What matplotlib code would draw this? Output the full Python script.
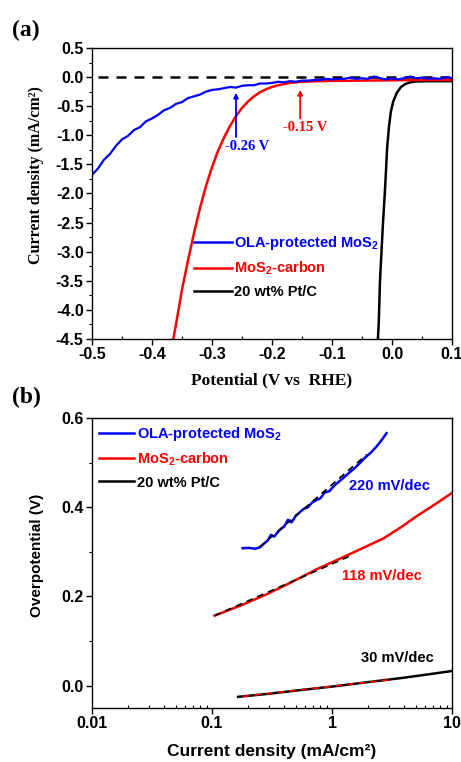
import numpy as np
import matplotlib
matplotlib.use('Agg')
import matplotlib.pyplot as plt
from matplotlib.ticker import MultipleLocator, FixedLocator, FuncFormatter, LogLocator, NullFormatter

plt.rcParams['font.family'] = 'Liberation Sans'
plt.rcParams['font.weight'] = 'bold'
plt.rcParams['axes.unicode_minus'] = False
plt.rcParams['mathtext.fontset'] = 'custom'
plt.rcParams['mathtext.rm'] = 'Liberation Sans:bold'
plt.rcParams['mathtext.bf'] = 'Liberation Sans:bold'

# ---- panel (a): polarisation curves ----
ola_v = [-0.50, -0.49, -0.48, -0.47, -0.46, -0.45, -0.44, -0.43, -0.42, -0.41,
         -0.40, -0.39, -0.38, -0.37, -0.36, -0.35, -0.34, -0.33, -0.32, -0.31,
         -0.30, -0.29, -0.28, -0.27, -0.26, -0.25, -0.24, -0.23, -0.22, -0.21,
         -0.20, -0.19, -0.18, -0.17, -0.16, -0.15, -0.14, -0.13, -0.12, -0.11,
         -0.10, -0.09, -0.08, -0.07, -0.06, -0.05, -0.04, -0.03, -0.02, -0.01,
         0.00, 0.01, 0.02, 0.03, 0.04, 0.05, 0.06, 0.07, 0.08, 0.09, 0.10]
ola_j = [-1.68, -1.57, -1.42, -1.32, -1.18, -1.07, -1.01, -0.91, -0.86, -0.76,
         -0.71, -0.65, -0.57, -0.53, -0.46, -0.43, -0.36, -0.33, -0.30, -0.25,
         -0.22, -0.21, -0.19, -0.17, -0.18, -0.15, -0.14, -0.14, -0.11, -0.11,
         -0.10, -0.08, -0.09, -0.07, -0.08, -0.06, -0.06, -0.05, -0.05, -0.03,
         -0.04, -0.03, -0.03, -0.01, -0.03, -0.02, -0.03, 0.01, -0.02, -0.04,
         -0.02, -0.04, -0.02, 0.01, -0.02, -0.01, -0.03, -0.02, -0.03, 0.00, -0.02]

mc_v = [-0.37, -0.36, -0.35, -0.34, -0.33, -0.32, -0.31, -0.30, -0.29, -0.28,
        -0.27, -0.26, -0.25, -0.24, -0.23, -0.22, -0.21, -0.20, -0.19, -0.18,
        -0.17, -0.16, -0.15, -0.14, -0.12, -0.10, -0.05, 0.00, 0.05, 0.10]
mc_j = [-4.80, -4.25, -3.65, -3.15, -2.68, -2.25, -1.87, -1.55, -1.27, -1.04,
        -0.84, -0.67, -0.53, -0.42, -0.33, -0.26, -0.21, -0.17, -0.14, -0.12,
        -0.10, -0.09, -0.08, -0.075, -0.07, -0.065, -0.06, -0.055, -0.05, -0.05]

pt_v = [-0.025, -0.022, -0.020, -0.017, -0.015, -0.012, -0.010, -0.008, -0.005,
        -0.002, 0.002, 0.008, 0.015, 0.022, 0.030, 0.040, 0.060, 0.100]
pt_j = [-4.80, -4.20, -3.50, -2.90, -2.50, -2.00, -1.60, -1.20, -0.85,
        -0.60, -0.42, -0.27, -0.17, -0.12, -0.09, -0.075, -0.07, -0.07]

# onset potentials: (potential, arrow base, arrow tip, label x, label y)
onset_ola = (-0.26, -1.03, -0.27, -0.241, -1.20)
onset_mc = (-0.153, -0.71, -0.22, -0.144, -0.87)

# ---- panel (b): Tafel plots ----
tf_ola_x = [0.18, 0.20, 0.23, 0.25, 0.27, 0.29, 0.31, 0.33, 0.35, 0.37, 0.40,
            0.43, 0.46, 0.50, 0.54, 0.58, 0.63, 0.68, 0.74, 0.80, 0.87, 0.95,
            1.04, 1.15, 1.27, 1.40, 1.55, 1.72, 1.90, 2.10, 2.35, 2.60, 2.85]
tf_ola_y = [0.308, 0.309, 0.307, 0.310, 0.318, 0.325, 0.338, 0.334, 0.343, 0.350, 0.357,
            0.372, 0.366, 0.381, 0.389, 0.396, 0.400, 0.410, 0.416, 0.420, 0.433, 0.436,
            0.448, 0.458, 0.468, 0.478, 0.488, 0.500, 0.512, 0.522, 0.536, 0.551, 0.566]
tf_mc_x = [0.105, 0.178, 0.286, 0.468, 0.745, 1.41, 2.68, 3.80, 5.08, 7.08, 10.0]
tf_mc_y = [0.157, 0.181, 0.205, 0.233, 0.261, 0.295, 0.330, 0.356, 0.380, 0.405, 0.432]
tf_pt_x = [0.165, 0.30, 0.50, 1.0, 2.0, 4.0, 7.0, 10.0]
tf_pt_y = [-0.025, -0.018, -0.011, -0.002, 0.008, 0.018, 0.027, 0.033]

fit_ola_x, fit_ola_y = [0.25, 1.95], [0.311, 0.518]
fit_mc_x, fit_mc_y = [0.105, 1.45], [0.157, 0.292]
fit_pt_x, fit_pt_y = [0.18, 3.2], [-0.024, 0.014]

slopes = ['220 mV/dec', '118 mV/dec', '30 mV/dec']
slope_pos = [(2.99, 0.448), (2.61, 0.245), (3.51, 0.061)]

labels = ['OLA-protected MoS$_2$', 'MoS$_2$-carbon', '20 wt% Pt/C']
colors = ['#0000ff', '#ff0000', '#000000']

serif = 'Liberation Serif'

fig = plt.figure(figsize=(4.61, 7.62), dpi=100)
ax1 = fig.add_axes([92/461, 1-339/762, 360/461, 291/762])
ax2 = fig.add_axes([92/461, 1-708/762, 360/461, 290/762])

# panel (a)
ax1.plot([-0.49, 0.1], [0, 0], '--', color='black', lw=1.8, dashes=(4, 3.2))
ax1.plot(pt_v, pt_j, color=colors[2], lw=1.8, label=labels[2])
ax1.plot(mc_v, mc_j, color=colors[1], lw=1.8, label=labels[1])
ax1.plot(ola_v, ola_j, color=colors[0], lw=1.6, label=labels[0])

for (v, y0, y1, tx, ty), c, t in [(onset_ola, colors[0], '-0.26 V'),
                                   (onset_mc, colors[1], '-0.15 V')]:
    ax1.annotate('', xy=(v, y1), xytext=(v, y0),
                 arrowprops=dict(arrowstyle='-|>', color=c, lw=1.3,
                                 mutation_scale=7, shrinkA=0, shrinkB=0))
    ax1.text(tx, ty, t, color=c, fontsize=10.5, family=serif,
             weight='bold', ha='center', va='center')

ax1.set_xlim(-0.5, 0.1)
ax1.set_ylim(-4.5, 0.5)
ax1.xaxis.set_major_locator(MultipleLocator(0.1))
ax1.xaxis.set_minor_locator(MultipleLocator(0.05))
ax1.yaxis.set_major_locator(MultipleLocator(0.5))
ax1.yaxis.set_minor_locator(MultipleLocator(0.25))
ax1.xaxis.set_major_formatter(FuncFormatter(lambda x, p: '%.1f' % (0 if abs(x) < 1e-9 else x)))
ax1.yaxis.set_major_formatter(FuncFormatter(lambda x, p: '%.1f' % (0 if abs(x) < 1e-9 else x)))
ax1.set_xlabel('Potential (V vs  RHE)', family=serif, fontsize=12.5, weight='bold')
ax1.set_ylabel('Current density (mA/cm²)', family=serif, fontsize=11.5, weight='bold')
ax1.xaxis.set_label_coords(0.5, -0.115)
ax1.yaxis.set_label_coords(-0.133, 0.564)

leg1 = ax1.legend(handles=ax1.get_lines()[1:][::-1], loc='upper left',
                  bbox_to_anchor=(0.283, 0.362), frameon=False, fontsize=10.5,
                  handlelength=2.6, handletextpad=0.15, labelspacing=0.55,
                  borderpad=0, borderaxespad=0)
for txt, c in zip(leg1.get_texts(), colors):
    txt.set_color(c)
for ln in leg1.get_lines():
    ln.set_linewidth(1.8)

# panel (b)
ax2.plot(tf_pt_x, tf_pt_y, color=colors[2], lw=1.8, label=labels[2])
ax2.plot(fit_pt_x, fit_pt_y, '--', color='red', lw=1.2, dashes=(4, 3))
ax2.plot(tf_mc_x, tf_mc_y, color=colors[1], lw=1.8, label=labels[1])
ax2.plot(fit_mc_x, fit_mc_y, '--', color='black', lw=1.2, dashes=(4, 3))
ax2.plot(tf_ola_x, tf_ola_y, color=colors[0], lw=1.8, label=labels[0])
ax2.plot(fit_ola_x, fit_ola_y, '--', color='black', lw=1.2, dashes=(4, 3))

for t, (x, y), c in zip(slopes, slope_pos, colors):
    ax2.text(x, y, t, color=c, fontsize=10.5, weight='bold', ha='center', va='center')

ax2.set_xscale('log')
ax2.set_xlim(0.01, 10)
ax2.set_ylim(-0.05, 0.6)
ax2.xaxis.set_major_locator(FixedLocator([0.01, 0.1, 1, 10]))
ax2.xaxis.set_major_formatter(FuncFormatter(lambda x, p: '%g' % x))
ax2.xaxis.set_minor_locator(LogLocator(base=10, subs=np.arange(2, 10)))
ax2.xaxis.set_minor_formatter(NullFormatter())
ax2.yaxis.set_major_locator(FixedLocator([0.0, 0.2, 0.4, 0.6]))
ax2.yaxis.set_minor_locator(FixedLocator([0.1, 0.3, 0.5]))
ax2.yaxis.set_major_formatter(FuncFormatter(lambda x, p: '%.1f' % x))
ax2.set_xlabel('Current density (mA/cm²)', fontsize=12.5, weight='bold')
ax2.set_ylabel('Overpotential (V)', fontsize=11, weight='bold')
ax2.xaxis.set_label_coords(0.5, -0.125)
ax2.yaxis.set_label_coords(-0.133, 0.528)

handles2 = [ax2.get_lines()[4], ax2.get_lines()[2], ax2.get_lines()[0]]
leg2 = ax2.legend(handles=handles2, loc='upper left', bbox_to_anchor=(0.019, 0.975),
                  frameon=False, fontsize=10.5, handlelength=2.4, handletextpad=0.25,
                  labelspacing=0.5, borderpad=0, borderaxespad=0)
for txt, c in zip(leg2.get_texts(), colors):
    txt.set_color(c)

for ax in (ax1, ax2):
    for s in ax.spines.values():
        s.set_linewidth(1.0)
    ax.tick_params(which='major', direction='out', length=4, width=1,
                   labelsize=11.5, pad=2)
    ax.tick_params(which='minor', direction='out', length=2.5, width=0.8)
    ax.tick_params(axis='x', which='minor', direction='in')
    for lab in ax.get_xticklabels() + ax.get_yticklabels():
        lab.set_fontweight('bold')

fig.text(12/461, 1-30/762, '(a)', family=serif, fontsize=17, weight='bold', va='center')
fig.text(12/461, 1-397/762, '(b)', family=serif, fontsize=17, weight='bold', va='center')

fig.savefig('out.png', dpi=100)
